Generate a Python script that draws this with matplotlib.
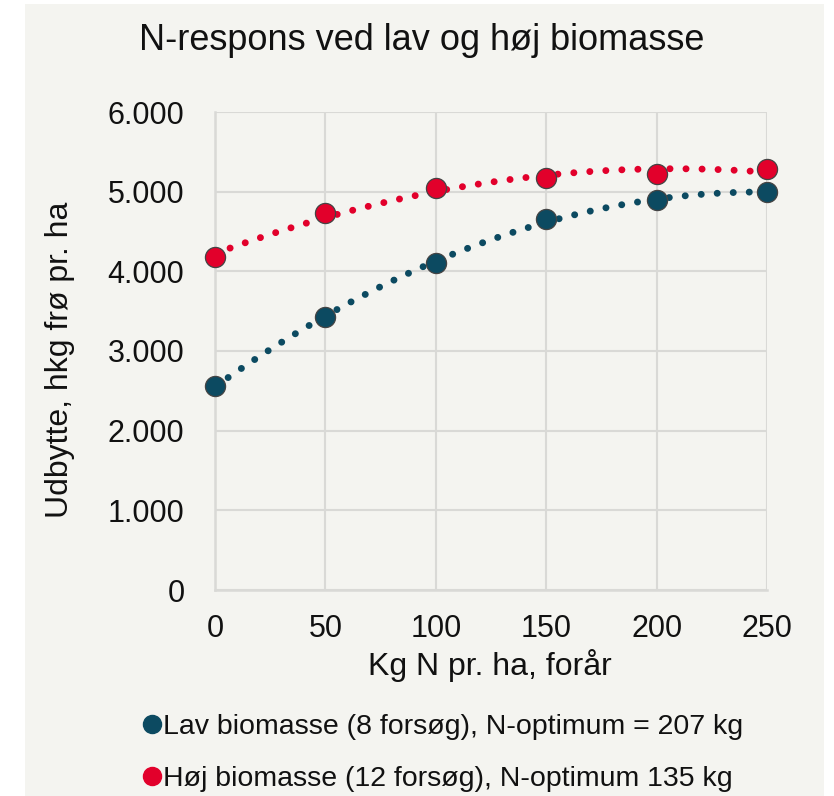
import numpy as np
import matplotlib
matplotlib.use("Agg")
import matplotlib.pyplot as plt
from matplotlib.patches import Rectangle
from matplotlib.lines import Line2D

plt.rcParams['font.family'] = ['Liberation Sans', 'DejaVu Sans']

# data
kg_n = [0, 50, 100, 150, 200, 250]
lav_biomasse = [2560, 3430, 4100, 4660, 4890, 4995]
hoej_biomasse = [4180, 4730, 5045, 5170, 5220, 5290]
y_ticks = [0, 1000, 2000, 3000, 4000, 5000, 6000]
y_ticklabels = ["0", "1.000", "2.000", "3.000", "4.000", "5.000", "6.000"]
lav_label = "Lav biomasse (8 forsøg), N-optimum = 207 kg"
hoej_label = "Høj biomasse (12 forsøg), N-optimum 135 kg"

col_lav = "#0c4a61"
col_hoej = "#e2002b"
bg = "#f4f4f0"
grid_col = "#d9d9d6"
txt = "#111111"

W, H = 834, 796
fig = plt.figure(figsize=(W / 100, H / 100), dpi=100, facecolor="white")
fig.patches.append(Rectangle((25 / W, 0), (824 - 25) / W, 1 - 4 / H,
                             transform=fig.transFigure, facecolor=bg,
                             edgecolor="none", zorder=-10))

ax = fig.add_axes([215 / W, 1 - 590 / H, (767 - 215) / W, (590 - 112) / H])
ax.set_facecolor(bg)

# polynomial trendlines (order 2) like the spreadsheet ones
xx = np.linspace(kg_n[0], kg_n[-1], 200)
for vals, col in [(lav_biomasse, col_lav), (hoej_biomasse, col_hoej)]:
    coef = np.polyfit(kg_n, vals, 2)
    ax.plot(xx, np.polyval(coef, xx), color=col, lw=5.0,
            linestyle=(0, (0.01, 2.3)), dash_capstyle="round", zorder=2)
    ax.plot(kg_n, vals, "o", color=col, ms=14.5, mec="#444444", mew=0.9,
            zorder=3, clip_on=False)

ax.set_xlim(0, 250)
ax.set_ylim(0, 6000)
ax.set_xticks(kg_n)
ax.set_yticks(y_ticks)
ax.set_yticklabels(y_ticklabels)
ax.tick_params(length=0, labelsize=22, colors=txt)
ax.tick_params(axis="y", pad=22)
ax.tick_params(axis="x", pad=17)
ax.grid(True, color=grid_col, lw=1.5)
ax.set_axisbelow(True)
for s in ["top", "right"]:
    ax.spines[s].set_visible(False)
for s in ["left", "bottom"]:
    ax.spines[s].set_color(grid_col)
    ax.spines[s].set_linewidth(1.8)

fig.text(422 / W, 1 - 40 / H, "N-respons ved lav og høj biomasse",
         ha="center", va="center", fontsize=26, color=txt)
fig.text(60 / W, 1 - 360 / H, "Udbytte, hkg frø pr. ha", rotation=90,
         ha="center", va="center", fontsize=23, color=txt)
fig.text(490 / W, 1 - 665 / H, "Kg N pr. ha, forår",
         ha="center", va="center", fontsize=23, color=txt)

handles = [Line2D([], [], ls="none", marker="o", ms=13, color=col_lav),
           Line2D([], [], ls="none", marker="o", ms=13, color=col_hoej)]
fig.legend(handles, [lav_label, hoej_label], loc="upper left",
           bbox_to_anchor=(129 / W, 1 - 700 / H), frameon=False,
           fontsize=20.5, handlelength=0.6, handletextpad=0.1,
           labelspacing=0.9, borderpad=0, labelcolor=txt)

fig.savefig("out.png", dpi=100, facecolor="white")
